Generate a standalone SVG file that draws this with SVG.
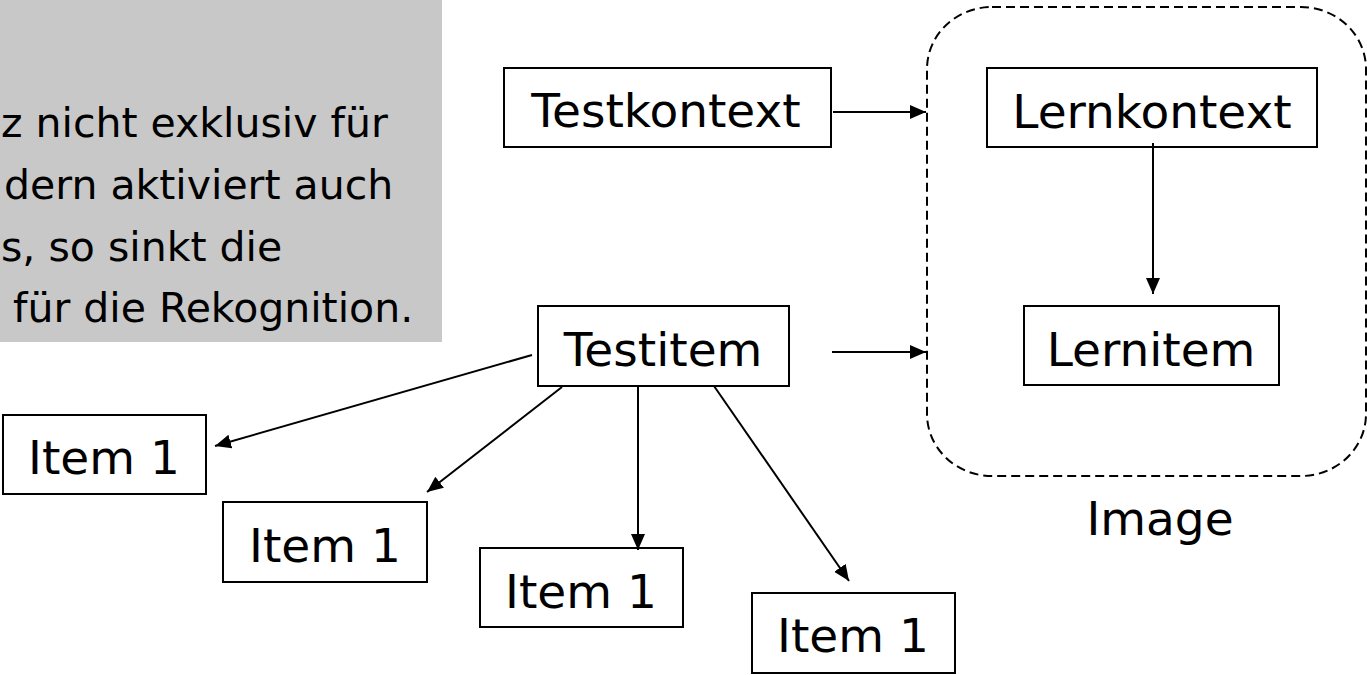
<svg xmlns="http://www.w3.org/2000/svg" width="1367" height="675" viewBox="0 0 1367 675">
<defs>
<marker id="ah" markerUnits="userSpaceOnUse" markerWidth="17" markerHeight="15" refX="16" refY="7" orient="auto">
<path d="M0,0 L16,7 L0,14 z" fill="#000"/>
</marker>
<style>
.box{fill:#fff;stroke:#000;stroke-width:2}
.lbl{font-family:"DejaVu Sans",Verdana,sans-serif;font-size:47px;fill:#000;text-anchor:middle}
.note{font-family:"DejaVu Sans",Verdana,sans-serif;font-size:41px;fill:#000;text-anchor:start}
.con{stroke:#000;stroke-width:2;fill:none;marker-end:url(#ah)}
</style>
</defs>
<rect width="1367" height="675" fill="#fff"/>
<g id="note">
<rect x="0" y="0" width="442" height="342" fill="#c8c8c8"/>
<text class="note" x="1" y="137">z nicht exklusiv für</text>
<text class="note" x="4" y="199">dern aktiviert auch</text>
<text class="note" x="1" y="261">s, so sinkt die</text>
<text class="note" x="13" y="322">für die Rekognition.</text>
</g>
<g id="image">
<rect x="927" y="7" width="439" height="469" rx="65" ry="62" fill="none" stroke="#000" stroke-width="2" stroke-dasharray="9 5"/>
<text class="lbl" x="1160" y="535">Image</text>
</g>
<g id="testkontext">
<rect class="box" x="504" y="68" width="327" height="79"/>
<text class="lbl" x="666" y="127">Testkontext</text>
</g>
<g id="lernkontext">
<rect class="box" x="987" y="68" width="330" height="79"/>
<text class="lbl" x="1152" y="128">Lernkontext</text>
</g>
<g id="lernitem">
<rect class="box" x="1024" y="306" width="255" height="79"/>
<text class="lbl" x="1151" y="366">Lernitem</text>
</g>
<g id="testitem">
<rect class="box" x="538" y="306" width="251" height="80"/>
<text class="lbl" x="663" y="366">Testitem</text>
</g>
<g id="item1a">
<rect class="box" x="3" y="415" width="203" height="79"/>
<text class="lbl" x="104" y="474">Item 1</text>
</g>
<g id="item1b">
<rect class="box" x="223" y="502" width="204" height="80"/>
<text class="lbl" x="325" y="562">Item 1</text>
</g>
<g id="item1c">
<rect class="box" x="480" y="548" width="203" height="79"/>
<text class="lbl" x="581" y="608">Item 1</text>
</g>
<g id="item1d">
<rect class="box" x="752" y="593" width="203" height="80"/>
<text class="lbl" x="853" y="652">Item 1</text>
</g>
<g id="connectors">
<line class="con" x1="833" y1="112" x2="926" y2="112"/>
<line class="con" x1="832" y1="352" x2="926" y2="352"/>
<line class="con" x1="1153" y1="143" x2="1153" y2="294"/>
<line class="con" x1="532" y1="355" x2="215" y2="446"/>
<line class="con" x1="562" y1="387" x2="427" y2="492"/>
<line class="con" x1="638" y1="386" x2="638" y2="550"/>
<line class="con" x1="714" y1="386" x2="849" y2="581"/>
</g>
</svg>
